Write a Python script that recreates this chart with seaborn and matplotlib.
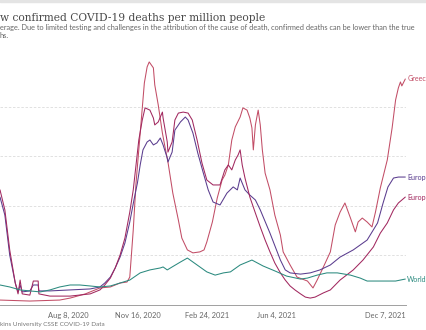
import matplotlib
matplotlib.use('Agg')
import matplotlib.pyplot as plt
from matplotlib.patches import Rectangle
import seaborn as sns
import pandas as pd

# Daily new confirmed COVID-19 deaths per million (7-day rolling average)
greece_dates = ['2020-05-02', '2020-06-14', '2020-07-27', '2020-08-11', '2020-09-02', '2020-09-23',
                '2020-10-08', '2020-10-22', '2020-11-01', '2020-11-05', '2020-11-10', '2020-11-14',
                '2020-11-20', '2020-11-26', '2020-11-30', '2020-12-03', '2020-12-05', '2020-12-09',
                '2020-12-11', '2020-12-16', '2020-12-22', '2020-12-26', '2020-12-30', '2021-01-06',
                '2021-01-14', '2021-01-19', '2021-01-27', '2021-02-04', '2021-02-14', '2021-02-20',
                '2021-02-24', '2021-03-04', '2021-03-11', '2021-03-18', '2021-03-22', '2021-03-27',
                '2021-04-01', '2021-04-06', '2021-04-13', '2021-04-17', '2021-04-23', '2021-04-27',
                '2021-04-30', '2021-05-02', '2021-05-05', '2021-05-09', '2021-05-12', '2021-05-15',
                '2021-05-19', '2021-05-26', '2021-06-02', '2021-06-10', '2021-06-14', '2021-06-24',
                '2021-07-04', '2021-07-19', '2021-07-27', '2021-08-02', '2021-08-11', '2021-08-21',
                '2021-08-28', '2021-09-04', '2021-09-11', '2021-09-19', '2021-09-26', '2021-09-30',
                '2021-10-06', '2021-10-13', '2021-10-20', '2021-10-25', '2021-11-01', '2021-11-11',
                '2021-11-18', '2021-11-23', '2021-11-27', '2021-11-30', '2021-12-02', '2021-12-07']
greece_vals = [0.18, 0.14, 0.18, 0.26, 0.43, 0.67,
               0.71, 0.87, 0.91, 1.11, 3.02, 4.92,
               6.94, 8.97, 9.62, 9.82, 9.74, 9.58,
               8.89, 8.08, 6.94, 6.34, 5.77, 4.51,
               3.42, 2.69, 2.21, 2.09, 2.13, 2.21,
               2.53, 3.34, 4.31, 5.04, 5.24, 5.65,
               6.66, 7.19, 7.59, 7.96, 7.87, 7.55,
               7.15, 6.26, 7.27, 7.87, 7.27, 6.26,
               5.32, 4.64, 3.62, 2.81, 2.13, 1.60,
               1.11, 0.95, 0.67, 0.99, 1.52, 2.13,
               3.22, 3.74, 4.11, 3.50, 2.94, 3.34,
               3.50, 3.34, 3.14, 3.74, 4.72, 5.85,
               7.15, 8.28, 8.77, 9.01, 8.85, 9.13]

europe_dates = ['2020-05-02', '2020-05-09', '2020-05-16', '2020-05-24', '2020-05-28', '2020-05-31',
                '2020-06-03', '2020-06-14', '2020-06-19', '2020-06-26', '2020-06-27', '2020-07-13',
                '2020-08-11', '2020-09-09', '2020-09-23', '2020-09-30', '2020-10-08', '2020-10-15',
                '2020-10-22', '2020-10-29', '2020-11-05', '2020-11-11', '2020-11-16', '2020-11-20',
                '2020-11-24', '2020-11-30', '2020-12-04', '2020-12-09', '2020-12-14', '2020-12-19',
                '2020-12-23', '2020-12-29', '2020-12-30', '2021-01-05', '2021-01-09', '2021-01-17',
                '2021-01-24', '2021-01-28', '2021-02-04', '2021-02-11', '2021-02-19', '2021-02-26',
                '2021-03-05', '2021-03-15', '2021-03-25', '2021-04-03', '2021-04-09', '2021-04-13',
                '2021-04-20', '2021-04-27', '2021-05-05', '2021-05-12', '2021-05-26', '2021-06-10',
                '2021-06-17', '2021-06-24', '2021-07-09', '2021-07-23', '2021-08-06', '2021-08-21',
                '2021-09-04', '2021-09-23', '2021-10-13', '2021-10-28', '2021-11-05', '2021-11-12',
                '2021-11-20', '2021-11-27', '2021-12-07']
europe_vals = [4.35, 3.62, 2.00, 0.87, 0.51, 0.79,
               0.51, 0.55, 0.79, 0.79, 0.55, 0.55,
               0.59, 0.63, 0.71, 0.87, 1.11, 1.48,
               1.92, 2.49, 3.34, 4.23, 4.92, 5.65,
               6.26, 6.58, 6.66, 6.46, 6.54, 6.74,
               6.46, 5.93, 5.77, 6.17, 7.06, 7.39,
               7.59, 7.47, 6.94, 6.13, 5.32, 4.64,
               4.15, 4.03, 4.51, 4.76, 4.64, 5.12,
               4.64, 4.43, 4.23, 3.83, 2.89, 1.80,
               1.40, 1.28, 1.23, 1.28, 1.40, 1.60,
               1.92, 2.21, 2.61, 3.30, 4.11, 4.76,
               5.12, 5.16, 5.16]

eu_dates = ['2020-05-02', '2020-05-09', '2020-05-16', '2020-05-24', '2020-05-28', '2020-05-31',
            '2020-06-03', '2020-06-14', '2020-06-19', '2020-06-26', '2020-06-27', '2020-07-13',
            '2020-08-11', '2020-09-09', '2020-09-23', '2020-09-30', '2020-10-08', '2020-10-15',
            '2020-10-22', '2020-10-29', '2020-11-05', '2020-11-10', '2020-11-14', '2020-11-18',
            '2020-11-23', '2020-11-27', '2020-12-04', '2020-12-09', '2020-12-11', '2020-12-16',
            '2020-12-22', '2020-12-23', '2020-12-29', '2020-12-30', '2021-01-05', '2021-01-09',
            '2021-01-14', '2021-01-21', '2021-01-28', '2021-02-03', '2021-02-10', '2021-02-17',
            '2021-02-24', '2021-03-05', '2021-03-15', '2021-03-22', '2021-03-27', '2021-04-01',
            '2021-04-06', '2021-04-10', '2021-04-13', '2021-04-16', '2021-04-20', '2021-04-27',
            '2021-05-05', '2021-05-12', '2021-05-19', '2021-05-26', '2021-06-02', '2021-06-10',
            '2021-06-17', '2021-06-24', '2021-07-01', '2021-07-09', '2021-07-16', '2021-07-23',
            '2021-07-30', '2021-08-11', '2021-08-21', '2021-09-04', '2021-09-23', '2021-10-07',
            '2021-10-22', '2021-11-01', '2021-11-11', '2021-11-20', '2021-11-27', '2021-12-07']
eu_vals = [4.64, 3.83, 2.21, 0.87, 0.43, 0.99,
           0.43, 0.38, 0.95, 0.95, 0.43, 0.34,
           0.34, 0.43, 0.59, 0.79, 1.07, 1.48,
           2.00, 2.69, 3.74, 4.64, 5.65, 6.66,
           7.47, 7.96, 7.87, 7.55, 7.27, 7.39,
           7.79, 7.55, 6.58, 6.17, 6.58, 7.47,
           7.75, 7.79, 7.75, 7.47, 6.66, 5.73,
           5.04, 4.84, 4.84, 5.45, 5.65, 5.45,
           5.85, 6.05, 6.26, 5.65, 5.12, 4.35,
           3.70, 3.14, 2.61, 2.13, 1.68, 1.28,
           0.99, 0.75, 0.59, 0.43, 0.30, 0.26,
           0.30, 0.47, 0.59, 0.99, 1.40, 1.80,
           2.33, 2.89, 3.30, 3.83, 4.11, 4.35]

world_dates = ['2020-05-02', '2020-05-16', '2020-05-31', '2020-06-14', '2020-06-29', '2020-07-13',
               '2020-07-27', '2020-08-11', '2020-08-25', '2020-09-09', '2020-09-23', '2020-10-08',
               '2020-10-22', '2020-11-05', '2020-11-20', '2020-12-04', '2020-12-19', '2020-12-23',
               '2020-12-29', '2021-01-05', '2021-01-17', '2021-01-27', '2021-02-04', '2021-02-14',
               '2021-02-24', '2021-03-08', '2021-03-20', '2021-03-30', '2021-04-13', '2021-04-30',
               '2021-05-16', '2021-06-02', '2021-06-19', '2021-07-09', '2021-07-19', '2021-08-02',
               '2021-08-16', '2021-08-31', '2021-09-19', '2021-10-03', '2021-10-13', '2021-11-01',
               '2021-11-23', '2021-11-30', '2021-12-07']
world_vals = [0.79, 0.71, 0.59, 0.55, 0.51, 0.59,
              0.71, 0.79, 0.79, 0.75, 0.71, 0.75,
              0.87, 0.99, 1.28, 1.40, 1.48, 1.52,
              1.40, 1.52, 1.72, 1.88, 1.72, 1.52,
              1.32, 1.19, 1.28, 1.32, 1.60, 1.80,
              1.56, 1.36, 1.15, 1.03, 1.07, 1.19,
              1.28, 1.28, 1.19, 1.07, 0.95, 0.95,
              0.95, 0.99, 1.03]

entities = ['Greece', 'Europe', 'European Union', 'World']
# the reference is cropped, only the start of each end label shows
end_labels = ['Greec', 'Europ', 'Europ', 'World']
colors = {'Greece': '#c24d66', 'Europe': '#5a3c8e', 'European Union': '#a1285f', 'World': '#2b8a7f'}

tick_dates = ['2020-08-08', '2020-11-16', '2021-02-24', '2021-06-04', '2021-12-07']
tick_labels = ['Aug 8, 2020', 'Nov 16, 2020', 'Feb 24, 2021', 'Jun 4, 2021', 'Dec 7, 2021']

series = {
    'Greece': (greece_dates, greece_vals),
    'Europe': (europe_dates, europe_vals),
    'European Union': (eu_dates, eu_vals),
    'World': (world_dates, world_vals),
}
frames = []
for name in entities:
    d, v = series[name]
    frames.append(pd.DataFrame({'entity': name, 'date': pd.to_datetime(d), 'value': v}))
df = pd.concat(frames, ignore_index=True)

sns.set_theme(style='white')
plt.rcParams['font.family'] = ['Lato', 'DejaVu Sans']

W, H = 427, 330
fig = plt.figure(figsize=(W / 100, H / 100), dpi=100)
fig.patches.append(Rectangle((0, 1 - 2 / H), 1, 2 / H, transform=fig.transFigure,
                             color='#e4e4e4', zorder=0))

ax = fig.add_axes([0, 1 - 304.5 / H, 406 / W, 247 / H])
sns.lineplot(data=df, x='date', y='value', hue='entity', palette=colors,
             linewidth=0.75, legend=False, estimator=None, ax=ax)

ax.set_xlim(pd.Timestamp('2020-05-02'), pd.Timestamp('2021-12-08'))
ax.set_ylim(0, 10)
ax.set_yticks([2, 4, 6, 8])
ax.yaxis.grid(True, linestyle=(0, (3, 2)), color='#dcdcdc', linewidth=0.6)
ax.tick_params(axis='y', length=0, labelleft=False)
for s in ['top', 'right', 'left']:
    ax.spines[s].set_visible(False)
ax.spines['bottom'].set_color('#a0a0a0')
ax.spines['bottom'].set_linewidth(0.7)
ax.set_xlabel('')
ax.set_ylabel('')

ax.set_xticks(pd.to_datetime(tick_dates))
ax.set_xticklabels(tick_labels, fontsize=5.4, color='#666666')
ax.get_xticklabels()[-1].set_horizontalalignment('right')
ax.tick_params(axis='x', length=3, width=0.6, color='#a0a0a0', pad=2.5)

# series labels at the line ends
for name, lab in zip(entities, end_labels):
    d, v = series[name]
    ax.annotate(lab, xy=(pd.Timestamp(d[-1]), v[-1]), xytext=(1.5, 0),
                textcoords='offset points', va='center', ha='left',
                fontsize=5.1, color=colors[name], annotation_clip=False)

# title, subtitle and source, as far as they show in the cropped reference
fig.text(0, 1 - 21 / H, 'w confirmed COVID-19 deaths per million people',
         ha='left', va='baseline', fontsize=7.7, color='#4a4a4a', family='DejaVu Serif')
fig.text(0, 1 - 30 / H,
         'erage. Due to limited testing and challenges in the attribution of the cause of death, '
         'confirmed deaths can be lower than the true',
         ha='left', va='baseline', fontsize=5.3, color='#666666')
fig.text(0, 1 - 37.5 / H, 'hs.', ha='left', va='baseline', fontsize=5.3, color='#666666')
fig.text(0, 1 - 326 / H, 'kins University CSSE COVID-19 Data',
         ha='left', va='baseline', fontsize=4.6, color='#777777')

fig.savefig('out.png', dpi=100)
